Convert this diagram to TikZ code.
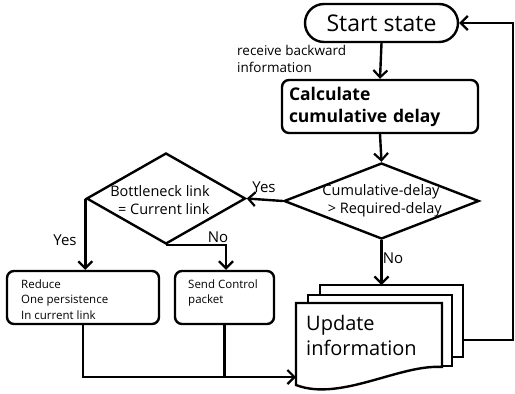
\documentclass[tikz,border=0pt]{standalone}
\usepackage{fontspec}
\setmainfont{Open Sans}
\usetikzlibrary{shapes.geometric,arrows.meta}
\begin{document}
\begin{tikzpicture}[x=1pt,y=-1pt,
  ln/.style={line width=2.4pt},
  arr/.style={ln,-{Straight Barb[length=7pt,width=14pt,line width=2.2pt]}},
  boxs/.style={draw,ln,rounded corners=7pt,inner sep=0pt},
  dia/.style={draw,ln,diamond,inner sep=0pt},
  diatxt/.style={inner sep=0pt,align=center,font=\fontsize{14.5}{18}\selectfont},
  lbl/.style={inner sep=0pt,font=\fontsize{15}{17}\selectfont},
  small/.style={anchor=north west,inner sep=0pt,align=left,font=\fontsize{11.5}{15.5}\selectfont},
  sheet/.style={draw,ln,fill=white,line join=miter}]
\useasboundingbox (0,0) rectangle (515,394);

\node[boxs,rounded corners=19pt,minimum width=153pt,minimum height=38pt,
      font=\fontsize{23}{25}\selectfont] (start) at (381.5,23) {Start state};

\node[boxs,minimum width=196pt,minimum height=53pt,text width=182pt,align=left,
      font=\bfseries\fontsize{17.5}{22}\selectfont] (calc) at (380,106.5) {Calculate\\cumulative delay};

\node[dia,minimum width=195pt,minimum height=76pt] (d2) at (381.5,201) {};
\node[diatxt] (d2t) at (381,200.5) {Cumulative-delay\\\ \ > Required-delay};

\node[dia,minimum width=159pt,minimum height=91pt] (d1) at (166,198.5) {};
\node[diatxt] (d1t) at (160,200) {Bottleneck link\\\ \ = Current link};

\node[boxs,minimum width=152pt,minimum height=53pt] (reduce) at (83,297.5) {};
\node[small] (reducet) at (21,279.5) {Reduce\\One persistence\\In current link};

\node[boxs,minimum width=99pt,minimum height=53pt] (send) at (224.5,297.5) {};
\node[small] (sendt) at (188,279.5) {Send Control\\packet};

% multi-document
\draw[sheet] (320,285) rectangle (463,357);
\draw[sheet] (308,295) rectangle (452,366);
\draw[sheet] (296,303) -- (442,303) -- (442,367)
   .. controls (400,364) and (340,402) .. (296,385) -- cycle;
\coordinate (backtop) at (381.5,285);
\coordinate (backright) at (463,340);
\coordinate (frontleft) at (296,377);
\node[anchor=west,align=left,inner sep=0pt,font=\fontsize{20}{25}\selectfont] (upd) at (306,335)
  {Update\\information};

% labels
\node[anchor=north west,align=left,inner sep=0pt,font=\fontsize{13.5}{17}\selectfont] (recv) at (237,45)
  {receive backward\\information};
\node[lbl] (yes1) at (264,187) {Yes};
\node[lbl] (yes2) at (65,240) {Yes};
\node[lbl] (no1) at (218,237) {No};
\node[lbl] (no2) at (393,258) {No};

% connectors
\draw[arr] (start.south) -- (calc.north);
\draw[arr] (calc.south) -- (d2.north);
\draw[arr] (d2.west) -- (d1.east);
\draw[arr] (d1.west) -- (d1.west |- reduce.north);
\draw[arr] (d1.south) -| ([xshift=1.5pt]send.north);
\draw[arr] (d2.south) -- (backtop);
\coordinate (corner1) at (513,340);
\coordinate (corner2) at (513,23);
\draw[arr] (backright) -- (corner1) -- (corner2) -- (start.east);
\coordinate (join) at (reduce.south |- frontleft);
\draw[arr] (reduce.south) -- (join) -- (frontleft);
\draw[ln] (send.south) -- (send.south |- frontleft);
\end{tikzpicture}
\end{document}
